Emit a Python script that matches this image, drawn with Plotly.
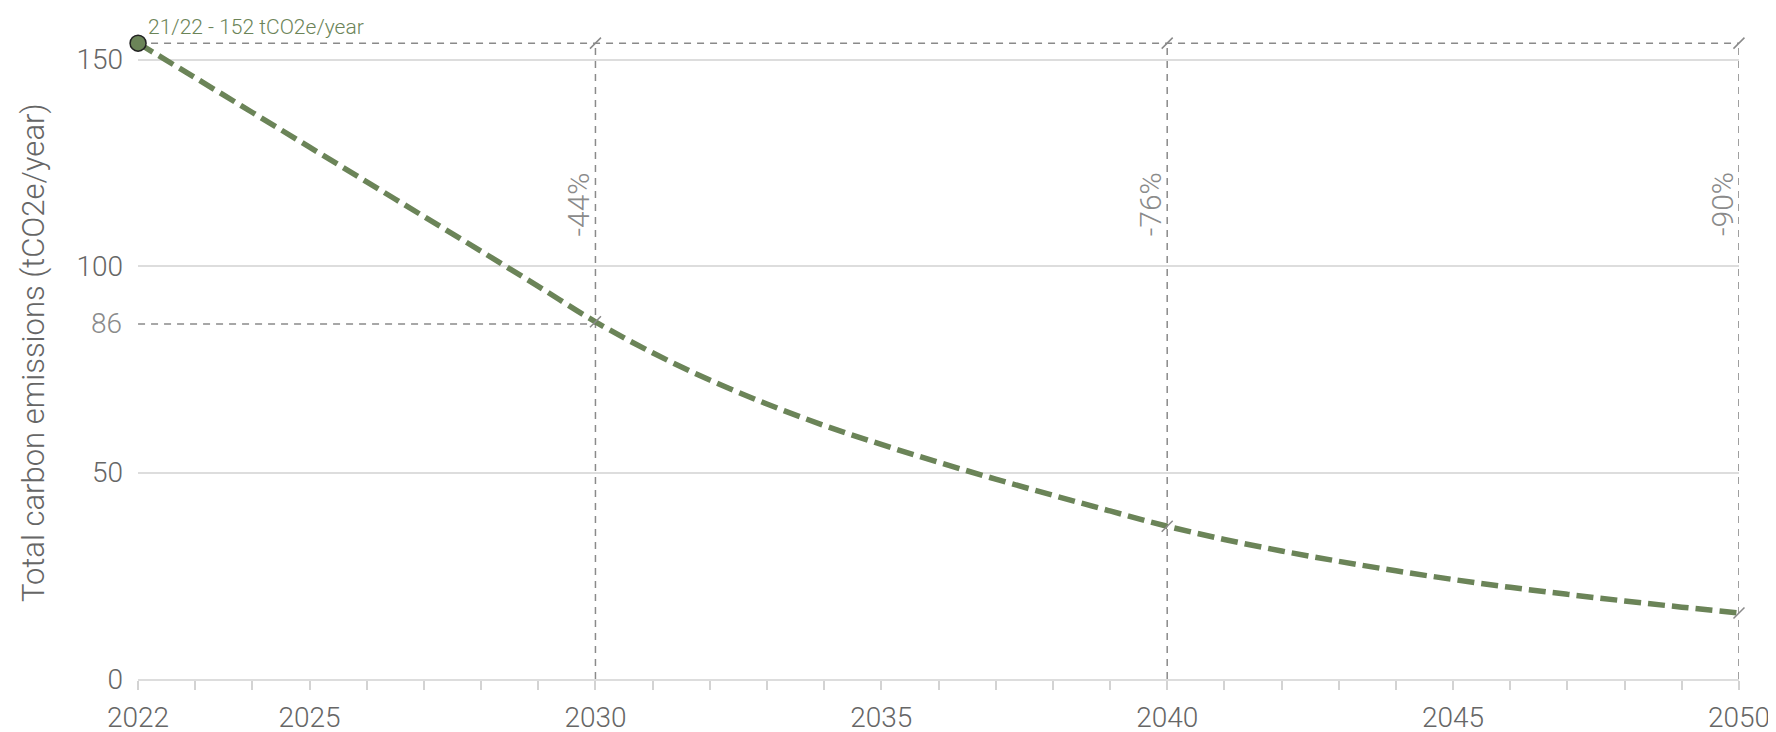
import plotly.graph_objects as go

# ---- data ----
years = list(range(2022, 2051))
emissions = [154, 145.6, 137.2, 128.8, 120.4, 112, 103.6, 95.1, 86.5, 79, 72.4, 66.6, 61.4, 56.8,
             52.5, 48.4, 44.5, 40.7, 37, 33.8, 31, 28.5, 26.2, 24.1, 22.2, 20.5, 18.9, 17.4, 16]
milestone_years = [2030, 2040, 2050]
milestone_labels = ["-44%", "-76%", "-90%"]
baseline_label = "21/22 - 152 tCO2e/year"
level_2030 = 86
y_ticks = [0, 50, 100, 150]
x_label_years = [2022, 2025, 2030, 2035, 2040, 2045, 2050]

GREEN = "#6b8458"
GREY = "#8a8a8a"
TXT = "#666666"
FONT = "Roboto"
W = 300

fig = go.Figure()

top = emissions[0]
dash_ref = dict(color=GREY, width=1.5, dash="7px,6px")
fig.add_trace(go.Scatter(x=[years[0], years[-1]], y=[top, top], mode="lines", line=dash_ref,
                         hoverinfo="skip", showlegend=False, cliponaxis=False))
for yr in milestone_years:
    fig.add_trace(go.Scatter(x=[yr, yr], y=[0, top], mode="lines", line=dash_ref,
                             hoverinfo="skip", showlegend=False, cliponaxis=False))
fig.add_trace(go.Scatter(x=[years[0], milestone_years[0]], y=[level_2030, level_2030], mode="lines",
                         line=dash_ref, hoverinfo="skip", showlegend=False, cliponaxis=False))

# main curve
fig.add_trace(go.Scatter(x=years, y=emissions, mode="lines", line_shape="spline",
                         line=dict(color=GREEN, width=5.5, dash="17px,7px"),
                         showlegend=False, cliponaxis=False))

# slash marks
mk_x = milestone_years + milestone_years
mk_y = [top] * len(milestone_years) + [emissions[years.index(y)] for y in milestone_years]
fig.add_trace(go.Scatter(x=mk_x, y=mk_y, mode="markers",
                         marker=dict(symbol="line-ne", size=11, line=dict(color=GREY, width=1.5)),
                         hoverinfo="skip", showlegend=False, cliponaxis=False))

# start point
fig.add_trace(go.Scatter(x=[years[0]], y=[top], mode="markers",
                         marker=dict(size=16, color=GREEN, line=dict(color="#222222", width=1.5)),
                         showlegend=False, cliponaxis=False))

annotations = []
annotations.append(dict(x=years[0], y=top, xref="x", yref="y", text=baseline_label,
                        showarrow=False, xanchor="left", yanchor="bottom", xshift=8, yshift=2,
                        font=dict(family=FONT, size=21, color=GREEN, weight=W)))
for yr, lab in zip(milestone_years, milestone_labels):
    annotations.append(dict(x=yr, y=115, xref="x", yref="y", text=lab, showarrow=False,
                            textangle=-90, xanchor="center", yanchor="middle", xshift=-17,
                            font=dict(family=FONT, size=30, color=GREY, weight=W)))
annotations.append(dict(x=0, y=level_2030, xref="paper", yref="y", text=str(level_2030),
                        showarrow=False, xanchor="right", yanchor="middle", xshift=-14,
                        font=dict(family=FONT, size=28, color=GREY, weight=W)))
annotations.append(dict(x=0, y=0.5, xref="paper", yref="paper",
                        text="Total carbon emissions (tCO2e/year)", showarrow=False,
                        textangle=-90, xanchor="center", yanchor="middle", xshift=-105, yshift=6,
                        font=dict(family=FONT, size=31, color=TXT, weight=W)))

fig.update_layout(
    width=1776, height=732,
    margin=dict(l=130, r=45, t=31, b=61),
    paper_bgcolor="white", plot_bgcolor="white",
    font=dict(family=FONT, size=28, color=TXT, weight=W),
    annotations=annotations,
    xaxis=dict(range=[2021.999, 2050.001], tickvals=years,
               ticktext=[str(y) if y in x_label_years else "" for y in years],
               showgrid=False, zeroline=False, showline=True, linecolor="#dddddd", linewidth=2,
               ticks="outside", ticklen=9, tickwidth=2, tickcolor="#d3d3d3",
               ticklabelstandoff=3, ticklabeloverflow="allow", automargin=False,
               tickfont=dict(family=FONT, size=28, color=TXT, weight=W)),
    yaxis=dict(range=[0, 155], tickvals=y_ticks, showgrid=True, gridcolor="#dddddd", gridwidth=2,
               zeroline=False, showline=False, ticks="", ticklabelstandoff=14, automargin=False,
               tickfont=dict(family=FONT, size=28, color=TXT, weight=W)),
)

fig.write_html("out.html")
